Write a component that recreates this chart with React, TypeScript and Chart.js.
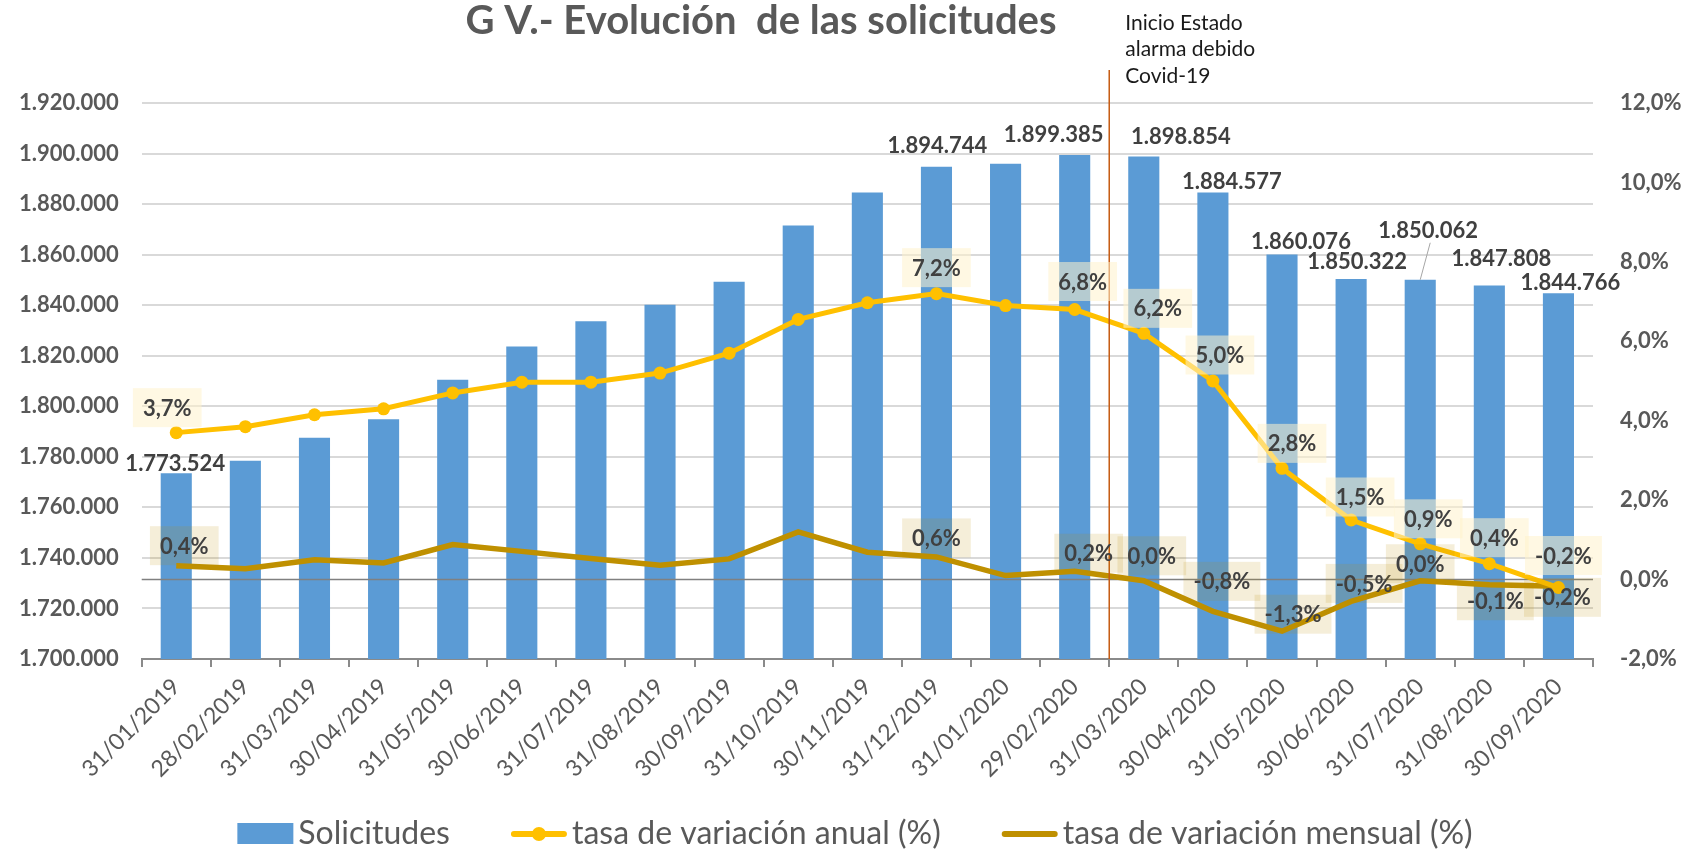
import React, { useEffect, useRef } from 'react';
import { Chart, registerables } from 'chart.js';

Chart.register(...registerables);

// ---------- data ----------
const categories = [
  '31/01/2019', '28/02/2019', '31/03/2019', '30/04/2019', '31/05/2019', '30/06/2019',
  '31/07/2019', '31/08/2019', '30/09/2019', '31/10/2019', '30/11/2019', '31/12/2019',
  '31/01/2020', '29/02/2020', '31/03/2020', '30/04/2020', '31/05/2020', '30/06/2020',
  '31/07/2020', '31/08/2020', '30/09/2020',
];

const solicitudes = [
  1773524, 1778400, 1787500, 1794900, 1810500, 1823700, 1833600, 1840200, 1849300,
  1871500, 1884600, 1894744, 1896000, 1899385, 1898854, 1884577, 1860076, 1850322,
  1850062, 1847808, 1844766,
];

const tasaAnual = [
  3.7, 3.85, 4.15, 4.3, 4.7, 4.97, 4.97, 5.2, 5.7, 6.55, 6.97, 7.2, 6.9, 6.8, 6.2,
  5.0, 2.8, 1.5, 0.9, 0.4, -0.2,
];

const tasaMensual = [
  0.35, 0.27, 0.5, 0.42, 0.88, 0.71, 0.53, 0.36, 0.52, 1.2, 0.69, 0.57, 0.1, 0.21,
  -0.03, -0.8, -1.3, -0.55, -0.03, -0.13, -0.17,
];

const labelledPoints = [0, 11, 13, 14, 15, 16, 17, 18, 19, 20];

const leftTicks = { min: 1700000, max: 1920000, step: 20000 };
const rightTicks = { min: -2, max: 12, step: 2 };

const titleText = 'G V.- Evolución  de las solicitudes';
const noteLines = ['Inicio Estado', 'alarma debido', 'Covid-19'];
const noteAfterIndex = 13;
const legendTexts = ['Solicitudes', 'tasa de variación anual (%)', 'tasa de variación mensual (%)'];

// ---------- label placement (nudges from the computed mark position) ----------
const barLabelNudge: Record<number, [number, number]> = {
  0: [-1, -9], 11: [1, -21], 13: [-21, -20], 14: [37, -20], 15: [19, -11],
  16: [19, -13], 17: [6, -17], 18: [8, -49], 19: [12, -27], 20: [12, -10],
};
const annualLabelNudge: Record<number, [number, number]> = {
  0: [-9, -25], 11: [0, -26], 13: [8, -28], 14: [14, -25], 15: [7, -26],
  16: [10, -25], 17: [9, -23], 18: [8, -25], 19: [5, -26], 20: [5, -32],
};
const monthlyLabelNudge: Record<number, [number, number]> = {
  0: [8, -20], 11: [0, -19], 13: [14, -18], 14: [8, -25], 15: [9, -30],
  16: [11, -17], 17: [13, -18], 18: [0, -17], 19: [6, 16], 20: [4, 11],
};

// ---------- styles ----------
const FONT = 'Lato, "Open Sans", "DejaVu Sans", sans-serif';
const BLUE = '#5B9BD5';
const YELLOW = '#FFC000';
const GOLD = '#BF9000';
const GREY_TEXT = '#595959';
const DARK_TEXT = '#404040';

const fmtThousands = (v: number) =>
  Math.round(v).toString().replace(/\B(?=(\d{3})+(?!\d))/g, '.');
const fmtPct = (v: number) => {
  let r = Math.round(v * 10) / 10;
  if (Object.is(r, -0)) r = 0;
  return r.toFixed(1).replace('.', ',') + '%';
};

function drawBoxLabel(ctx: CanvasRenderingContext2D, text: string, cx: number, cy: number, fill: string) {
  ctx.save();
  ctx.font = `bold 22px ${FONT}`;
  const w = ctx.measureText(text).width + 20;
  const h = 39;
  ctx.fillStyle = fill;
  ctx.fillRect(cx - w / 2, cy - h / 2, w, h);
  ctx.fillStyle = DARK_TEXT;
  ctx.textAlign = 'center';
  ctx.textBaseline = 'middle';
  ctx.fillText(text, cx, cy + 1);
  ctx.restore();
}

const overlayPlugin = {
  id: 'overlay',
  afterDatasetDraw(chart: any, args: any) {
    if (args.index !== 0) return;
    // zero line of the secondary axis, drawn over the bars
    const y1 = chart.scales.y1;
    const { left, right } = chart.chartArea;
    const y = y1.getPixelForValue(0);
    const ctx = chart.ctx;
    ctx.save();
    ctx.strokeStyle = '#808080';
    ctx.lineWidth = 1.5;
    ctx.beginPath();
    ctx.moveTo(left, y);
    ctx.lineTo(right, y);
    ctx.stroke();
    ctx.restore();
  },
  afterDraw(chart: any) {
    const ctx: CanvasRenderingContext2D = chart.ctx;
    const xs = chart.scales.x;
    const area = chart.chartArea;

    // vertical marker between two months
    const xm = (xs.getPixelForValue(noteAfterIndex) + xs.getPixelForValue(noteAfterIndex + 1)) / 2;
    ctx.save();
    ctx.strokeStyle = '#C55A11';
    ctx.lineWidth = 1.5;
    ctx.beginPath();
    ctx.moveTo(xm, 70);
    ctx.lineTo(xm, area.bottom);
    ctx.stroke();
    ctx.restore();

    // note text
    ctx.save();
    ctx.font = `21px ${FONT}`;
    ctx.fillStyle = '#1a1a1a';
    ctx.textAlign = 'left';
    ctx.textBaseline = 'alphabetic';
    noteLines.forEach((t, i) => ctx.fillText(t, xm + 16, 30 + i * 26.3));
    ctx.restore();

    // title
    ctx.save();
    ctx.font = `bold 40px ${FONT}`;
    ctx.fillStyle = GREY_TEXT;
    ctx.textAlign = 'center';
    ctx.textBaseline = 'alphabetic';
    ctx.fillText(titleText, 761, 34);
    ctx.restore();

    // bar value labels
    const barMeta = chart.getDatasetMeta(0);
    ctx.save();
    ctx.font = `bold 22px ${FONT}`;
    ctx.fillStyle = DARK_TEXT;
    ctx.textAlign = 'center';
    ctx.textBaseline = 'middle';
    labelledPoints.forEach((i) => {
      const el = barMeta.data[i];
      const [dx, dy] = barLabelNudge[i] || [0, -18];
      const cx = el.x + dx;
      const cy = el.y + dy;
      ctx.fillText(fmtThousands(solicitudes[i]), cx, cy);
      if (dy < -35) {
        ctx.save();
        ctx.strokeStyle = '#a6a6a6';
        ctx.lineWidth = 1;
        ctx.beginPath();
        ctx.moveTo(cx + 2, cy + 12);
        ctx.lineTo(el.x, el.y);
        ctx.stroke();
        ctx.restore();
      }
    });
    ctx.restore();

    // percentage labels
    const annMeta = chart.getDatasetMeta(1);
    const monMeta = chart.getDatasetMeta(2);
    labelledPoints.forEach((i) => {
      const p = monMeta.data[i];
      const [dx, dy] = monthlyLabelNudge[i] || [0, -20];
      drawBoxLabel(ctx, fmtPct(tasaMensual[i]), p.x + dx, p.y + dy, 'rgba(191,144,0,0.15)');
    });
    labelledPoints.forEach((i) => {
      const p = annMeta.data[i];
      const [dx, dy] = annualLabelNudge[i] || [0, -26];
      drawBoxLabel(ctx, fmtPct(tasaAnual[i]), p.x + dx, p.y + dy, 'rgba(255,242,204,0.55)');
    });

    // legend
    ctx.save();
    ctx.font = `32px ${FONT}`;
    const symW = 56;
    const gapText = 5;
    const gapItem = 61;
    const widths = legendTexts.map((t) => ctx.measureText(t).width);
    const total = widths.reduce((a, w) => a + symW + gapText + w, 0) + gapItem * (legendTexts.length - 1);
    let x = 855 - total / 2;
    const ly = 834;
    legendTexts.forEach((t, i) => {
      if (i === 0) {
        ctx.fillStyle = BLUE;
        ctx.fillRect(x, ly - 11, symW, 21);
      } else {
        ctx.strokeStyle = i === 1 ? YELLOW : GOLD;
        ctx.lineWidth = 6;
        ctx.lineCap = 'round';
        ctx.beginPath();
        ctx.moveTo(x + 3, ly);
        ctx.lineTo(x + symW - 3, ly);
        ctx.stroke();
        if (i === 1) {
          ctx.fillStyle = YELLOW;
          ctx.beginPath();
          ctx.arc(x + symW / 2, ly, 7, 0, Math.PI * 2);
          ctx.fill();
        }
      }
      ctx.fillStyle = GREY_TEXT;
      ctx.textAlign = 'left';
      ctx.textBaseline = 'middle';
      ctx.fillText(t, x + symW + gapText, ly);
      x += symW + gapText + widths[i] + gapItem;
    });
    ctx.restore();
  },
};

export default function App() {
  const ref = useRef<HTMLCanvasElement>(null);

  useEffect(() => {
    let chart: Chart | null = null;
    let cancelled = false;
    const make = () => {
      if (cancelled || !ref.current) return;
      chart = new Chart(ref.current, {
        type: 'bar',
        data: {
          labels: categories,
          datasets: [
            {
              type: 'bar',
              label: legendTexts[0],
              data: solicitudes,
              backgroundColor: BLUE,
              yAxisID: 'y',
              categoryPercentage: 1,
              barPercentage: 0.45,
              order: 3,
            },
            {
              type: 'line',
              label: legendTexts[1],
              data: tasaAnual,
              borderColor: YELLOW,
              backgroundColor: YELLOW,
              borderWidth: 5,
              pointRadius: 6.5,
              pointBorderWidth: 0,
              pointBackgroundColor: YELLOW,
              yAxisID: 'y1',
              tension: 0,
              order: 1,
            },
            {
              type: 'line',
              label: legendTexts[2],
              data: tasaMensual,
              borderColor: GOLD,
              backgroundColor: GOLD,
              borderWidth: 5.5,
              pointRadius: 0,
              yAxisID: 'y1',
              tension: 0,
              order: 2,
            },
          ] as any,
        },
        options: {
          responsive: false,
          devicePixelRatio: 1,
          animation: false,
          layout: { padding: { top: 103, left: 0, right: 0, bottom: 0 } },
          plugins: {
            legend: { display: false },
            title: { display: false },
            tooltip: { enabled: false },
          },
          scales: {
            x: {
              type: 'category',
              offset: true,
              grid: {
                offset: true,
                drawOnChartArea: false,
                drawTicks: true,
                tickLength: 8,
                color: '#8a8a8a',
                lineWidth: 2,
              },
              border: { display: true, color: '#8a8a8a', width: 2 },
              ticks: {
                autoSkip: false,
                minRotation: 45,
                maxRotation: 45,
                padding: 6,
                color: GREY_TEXT,
                font: { family: FONT, size: 23 },
              },
              afterFit: (s: any) => {
                s.height = 190;
              },
            },
            y: {
              position: 'left',
              min: leftTicks.min,
              max: leftTicks.max,
              ticks: {
                stepSize: leftTicks.step,
                padding: 23,
                color: GREY_TEXT,
                font: { family: FONT, size: 22, weight: 'bold' },
                callback: (v: any) => fmtThousands(Number(v)),
              },
              grid: { color: '#d9d9d9', lineWidth: 2, drawTicks: false },
              border: { display: false },
              afterFit: (s: any) => {
                s.width = 141.7;
              },
            },
            y1: {
              position: 'right',
              min: rightTicks.min,
              max: rightTicks.max,
              ticks: {
                stepSize: rightTicks.step,
                padding: 27,
                color: GREY_TEXT,
                font: { family: FONT, size: 22, weight: 'bold' },
                callback: (v: any) => fmtPct(Number(v)),
              },
              grid: { display: false, drawTicks: false },
              border: { display: false },
              afterFit: (s: any) => {
                s.width = 92;
              },
            },
          },
        } as any,
        plugins: [overlayPlugin],
      });
    };
    const fontsReady = (document as any).fonts
      ? Promise.all([
          (document as any).fonts.load(`bold 22px Lato`),
          (document as any).fonts.load(`22px Lato`),
        ]).catch(() => null)
      : Promise.resolve(null);
    fontsReady.then(make);
    return () => {
      cancelled = true;
      if (chart) chart.destroy();
    };
  }, []);

  return (
    <div style={{ position: 'fixed', left: 0, top: 0, width: 1685, height: 849, background: '#fff' }}>
      <canvas ref={ref} width={1685} height={849} style={{ width: 1685, height: 849, display: 'block' }} />
    </div>
  );
}
